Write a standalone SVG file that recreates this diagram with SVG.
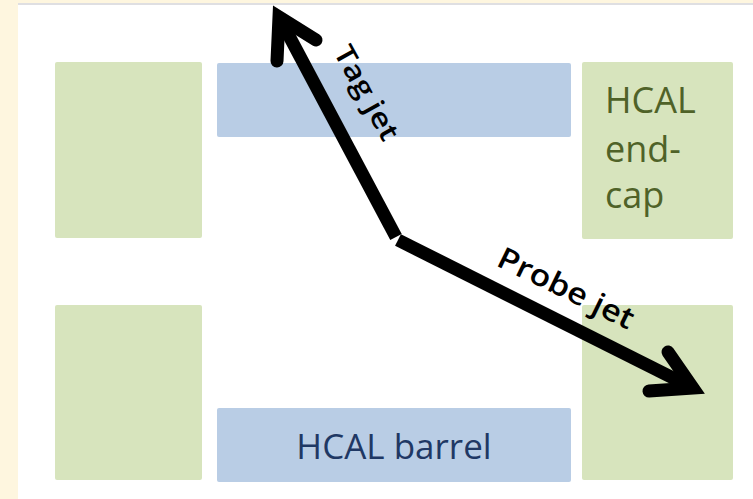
<svg xmlns="http://www.w3.org/2000/svg" width="753" height="499" viewBox="0 0 753 499">
  <style>
    .green { fill: #d7e4bd; }
    .blue { fill: #b9cde5; }
    .lbl { font-family: "Open Sans", "Liberation Sans", sans-serif; }
    .endcap { fill: #4f6228; font-size: 36px; }
    .barrel { fill: #1f3864; font-size: 35px; }
    .jet { fill: none; stroke: #000; stroke-width: 13; }
    .shaft { stroke-linecap: butt; }
    .head { stroke-linecap: round; stroke-linejoin: miter; stroke-miterlimit: 10; }
    .jetlbl { fill: #000; font-weight: 600; }
  </style>
  <rect x="0" y="0" width="753" height="499" fill="#fef6df"/>
  <rect x="18" y="3" width="735" height="496" fill="#ffffff"/>
  <line x1="18" y1="4" x2="753" y2="4" stroke="#d4d4d8" stroke-width="1.5"/>

  <g id="endcap-top-left"><rect class="green" x="55" y="62" width="147" height="176" rx="2"/></g>
  <g id="barrel-top"><rect class="blue" x="217" y="63" width="354" height="74" rx="2"/></g>
  <g id="endcap-top-right">
    <rect class="green" x="582" y="62" width="151" height="177" rx="2"/>
    <text class="lbl endcap" x="605" y="113">HCAL</text>
    <text class="lbl endcap" x="605" y="162">end-</text>
    <text class="lbl endcap" x="605" y="208">cap</text>
  </g>
  <g id="endcap-bottom-left"><rect class="green" x="55" y="305" width="147" height="175" rx="2"/></g>
  <g id="barrel-bottom">
    <rect class="blue" x="217" y="408" width="354" height="74" rx="2"/>
    <text class="lbl barrel" x="394" y="459" text-anchor="middle">HCAL barrel</text>
  </g>
  <g id="endcap-bottom-right"><rect class="green" x="582" y="305" width="151" height="175" rx="2"/></g>

  <g id="connectors">
    <g id="tag-jet">
      <line class="jet shaft" x1="396" y1="237" x2="279" y2="17"/>
      <polyline class="jet head" points="316,40 279,17 277,61"/>
      <text class="lbl jetlbl" font-size="28" textLength="104" lengthAdjust="spacingAndGlyphs" transform="translate(333,52) rotate(61)">Tag jet</text>
    </g>
    <g id="probe-jet">
      <line class="jet shaft" x1="398" y1="240" x2="693" y2="388"/>
      <polyline class="jet head" points="649,391 693,388 668,352"/>
      <text class="lbl jetlbl" font-size="30" textLength="148" lengthAdjust="spacingAndGlyphs" transform="translate(495,265) rotate(26)">Probe jet</text>
    </g>
  </g>
</svg>
